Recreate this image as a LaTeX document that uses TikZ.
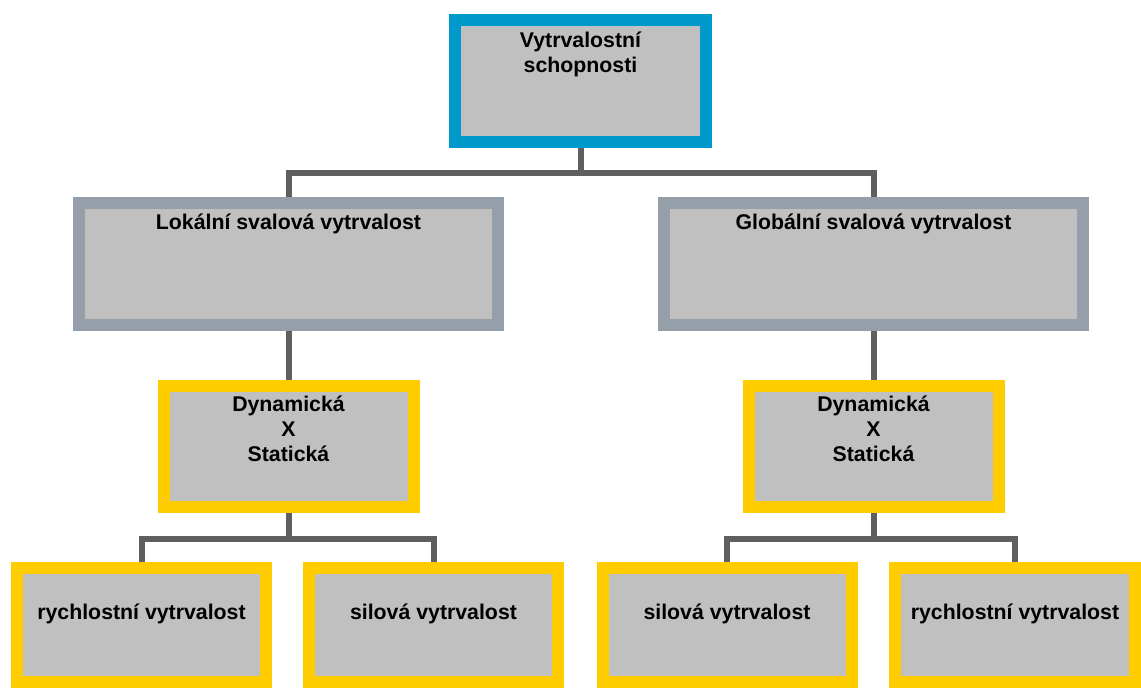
\documentclass[tikz,border=0pt]{standalone}
\usepackage{fontspec}
\setmainfont{Liberation Sans}

\definecolor{boxfill}{HTML}{C0C0C0}
\definecolor{topblue}{HTML}{0099CC}
\definecolor{midgray}{HTML}{959FA9}
\definecolor{boxyellow}{HTML}{FFCC00}
\definecolor{linegray}{HTML}{5F5F5F}

\begin{document}
\begin{tikzpicture}[x=1pt, y=-1pt,
    box/.style={draw, fill=boxfill, line width=12pt, inner sep=0pt},
    topbox/.style={box, draw=topblue, minimum width=251pt, minimum height=122pt},
    midbox/.style={box, draw=midgray, minimum width=419pt, minimum height=122pt},
    kindbox/.style={box, draw=boxyellow, minimum width=250pt, minimum height=121pt},
    leafbox/.style={box, draw=boxyellow, minimum width=249pt, minimum height=114pt},
    txt/.style={font=\fontsize{21.3}{25}\selectfont\bfseries, align=center, anchor=base, inner sep=0pt},
    conn/.style={draw=linegray, line width=6pt}]
    \useasboundingbox (0,0) rectangle (1141,688);

    \node[topbox, label={[txt, yshift=-58pt]north:Vytrvalostní\\schopnosti}] (top) at (580.5,81) {};

    \node[midbox, label={[txt, yshift=-32pt]north:Lokální svalová vytrvalost}] (lokal) at (288.5,264) {};
    \node[midbox, label={[txt, yshift=-32pt]north:Globální svalová vytrvalost}] (global) at (873.5,264) {};

    \node[kindbox, label={[txt, yshift=-81pt]north:Dynamická\\X\\Statická}] (dynL) at (288.5,446.5) {};
    \node[kindbox, label={[txt, yshift=-81pt]north:Dynamická\\X\\Statická}] (dynG) at (873.5,446.5) {};

    \node[leafbox, label={[txt, yshift=-57pt]north:rychlostní vytrvalost}] (rychL) at (141.5,625) {};
    \node[leafbox, label={[txt, yshift=-57pt]north:silová vytrvalost}] (silL) at (433.5,625) {};
    \node[leafbox, label={[txt, yshift=-57pt]north:silová vytrvalost}] (silG) at (727,625) {};
    \node[leafbox, minimum width=240pt, label={[txt, yshift=-57pt]north:rychlostní vytrvalost}] (rychG) at (1015,625) {};

    \coordinate (j0) at (580.5,173);
    \coordinate (jL) at (288.5,539);
    \coordinate (jG) at (873.5,539);

    \draw[conn] (top.south) -- (j0);
    \draw[conn] (lokal.north) |- (j0) -| (global.north);
    \draw[conn] (lokal.south) -- (dynL.north);
    \draw[conn] (global.south) -- (dynG.north);
    \draw[conn] (dynL.south) -- (jL);
    \draw[conn] (rychL.north) |- (jL) -| (silL.north);
    \draw[conn] (dynG.south) -- (jG);
    \draw[conn] (silG.north) |- (jG) -| (rychG.north);
\end{tikzpicture}
\end{document}
